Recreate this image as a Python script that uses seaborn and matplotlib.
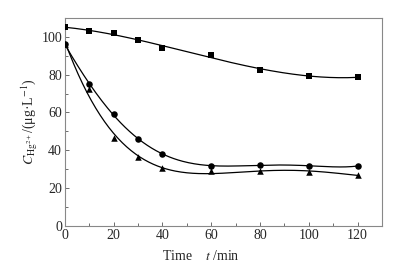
import numpy as np
import pandas as pd
import seaborn as sns
import matplotlib.pyplot as plt
from matplotlib.ticker import MultipleLocator

# time points (min)
time = [0, 10, 20, 30, 40, 60, 80, 100, 120]

# Hg2+ concentration (ug/L)
square = [105, 103.3, 102, 98.3, 94, 90.3, 82.5, 79.4, 78.6]
circle = [96, 75, 59, 46, 38, 31.9, 32.1, 31.8, 31.7]
triangle = [96, 72.5, 46.5, 36.4, 30.4, 28.9, 29, 28.6, 26.9]

# marker and degree of the smoothing fit for each series
series = {'square': (square, 's', 3), 'circle': (circle, 'o', 5), 'triangle': (triangle, '^', 4)}

sns.set_style('ticks')
plt.rcParams['font.family'] = ['Liberation Serif', 'DejaVu Serif']
plt.rcParams['mathtext.fontset'] = 'stix'
plt.rcParams['font.size'] = 10

fig = plt.figure(figsize=(4.03, 2.68), dpi=100)
ax = fig.add_axes([0.161, 0.157, 0.787, 0.776])

tt = np.linspace(0, 120, 200)
for name, (vals, mk, deg) in series.items():
    df = pd.DataFrame({'t': time, 'c': vals})
    # smooth fitted curve through the measured points
    coef = np.polyfit(df['t'], df['c'], deg)
    fit = pd.DataFrame({'t': tt, 'c': np.polyval(coef, tt)})
    sns.lineplot(data=fit, x='t', y='c', ax=ax, color='black', lw=0.9)
    sns.scatterplot(data=df, x='t', y='c', ax=ax, marker=mk, color='black',
                    s=22, edgecolor='black', linewidth=0, zorder=3)

ax.set_xlim(0, 130)
ax.set_ylim(0, 110)
ax.set_xticks([0, 20, 40, 60, 80, 100, 120])
ax.set_yticks([0, 20, 40, 60, 80, 100])
ax.xaxis.set_minor_locator(MultipleLocator(10))
ax.yaxis.set_minor_locator(MultipleLocator(10))
ax.tick_params(which='both', direction='in', color='#555555', labelsize=10, pad=2)
ax.tick_params(which='major', length=3, width=0.6)
ax.tick_params(which='minor', length=2, width=0.6)
for s in ax.spines.values():
    s.set_color('#888888')
    s.set_linewidth(0.8)

ax.set_xlabel('Time    $t$ /min', fontsize=10)
ax.xaxis.set_label_coords(0.43, -0.11)
ax.set_ylabel(r'$C_{\mathrm{Hg}^{2+}}$/(μg·L$^{-1}$)', fontsize=10, labelpad=1)

fig.savefig('out.png', dpi=100)
